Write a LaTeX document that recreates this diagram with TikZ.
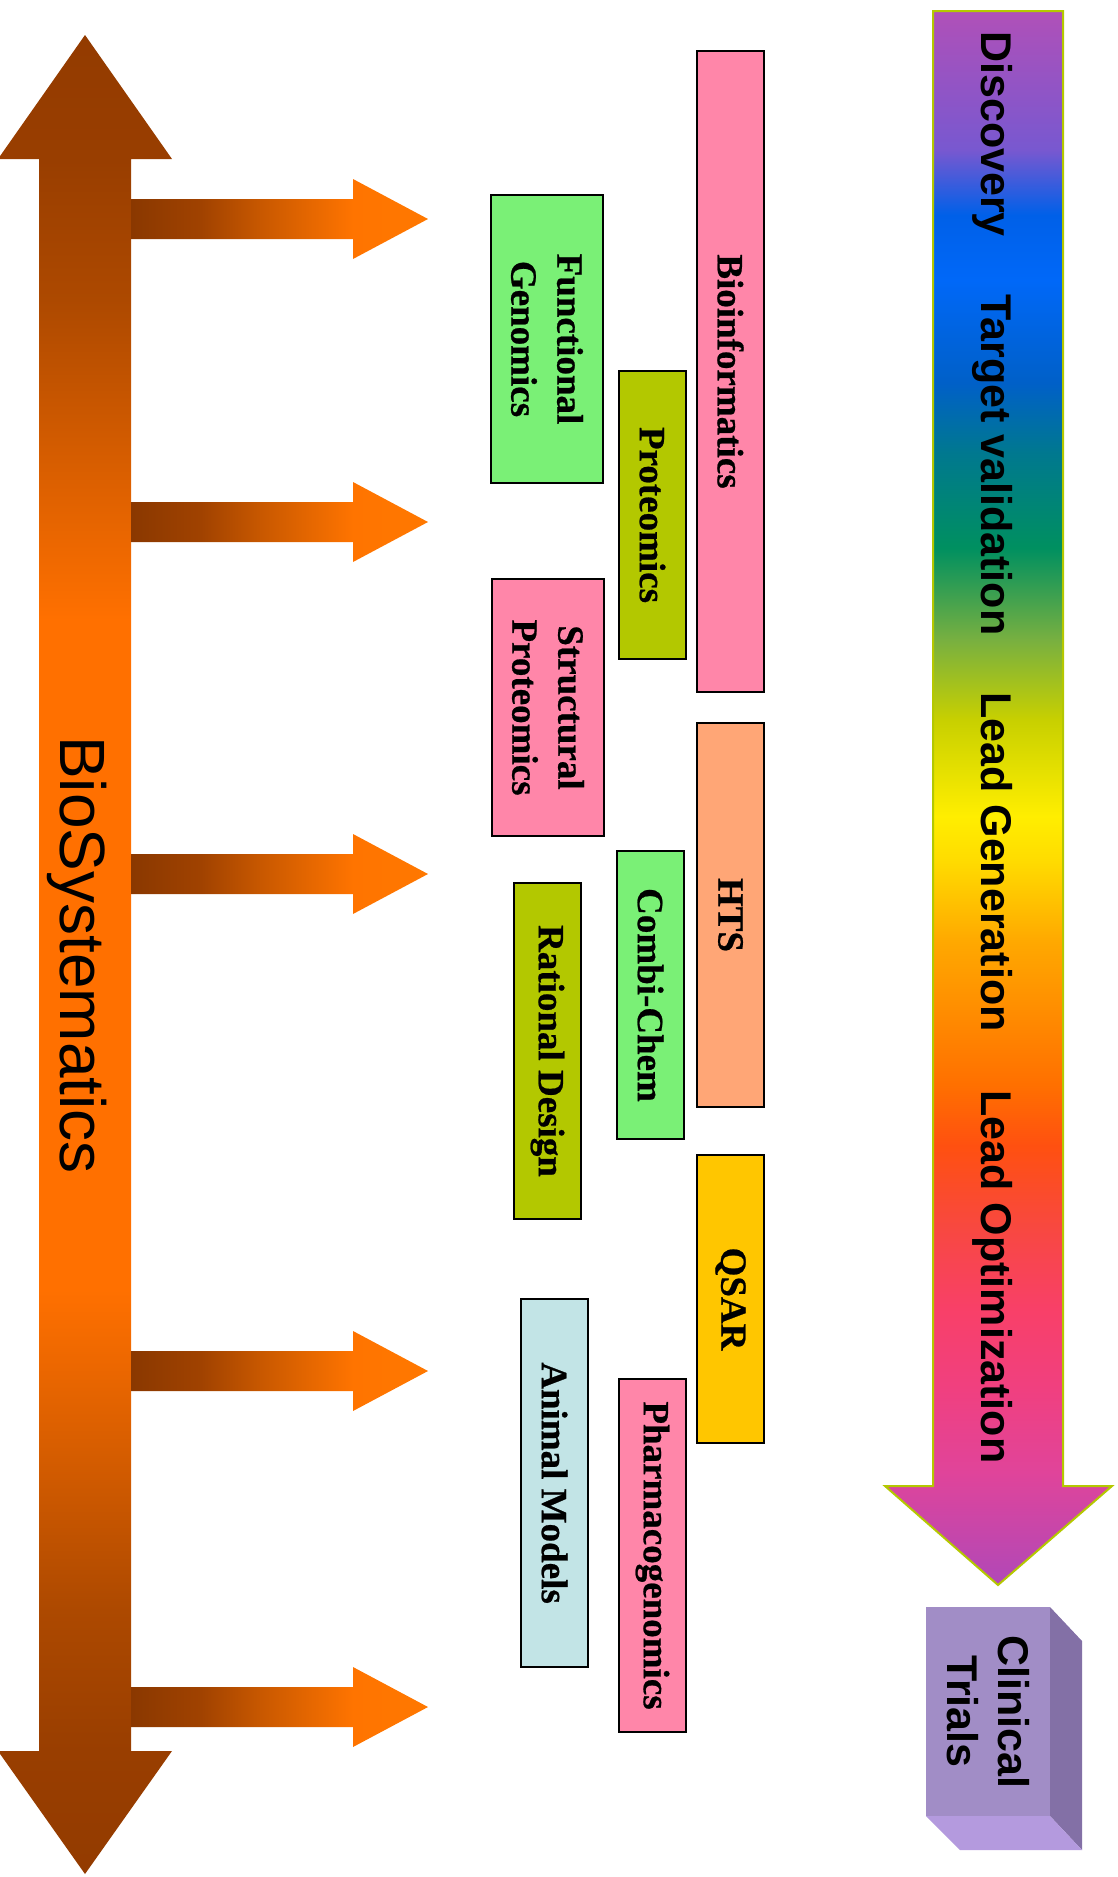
\documentclass[tikz,border=0pt]{standalone}
\usepackage{fontspec}
\setmainfont{Liberation Serif}[BoldFeatures={FakeBold=0.6}]
\newfontfamily\arialfont{Liberation Sans}

% box fills
\definecolor{boxpink}{HTML}{FF86A9}
\definecolor{boxgreen}{HTML}{7AF076}
\definecolor{boxolive}{HTML}{B3C800}
\definecolor{boxsalmon}{HTML}{FFA676}
\definecolor{boxgold}{HTML}{FFC600}
\definecolor{boxcyan}{HTML}{C2E4E6}
% pipeline arrow
\definecolor{rimgreen}{HTML}{B4C800}
\definecolor{rbA}{HTML}{B048B8}
\definecolor{rbB}{HTML}{E0449A}
\definecolor{rbC}{HTML}{F04080}
\definecolor{rbD}{HTML}{F84068}
\definecolor{rbE}{HTML}{F84840}
\definecolor{rbF}{HTML}{FF5010}
\definecolor{rbG}{HTML}{FF7000}
\definecolor{rbH}{HTML}{FFA800}
\definecolor{rbI}{HTML}{FFDC00}
\definecolor{rbJ}{HTML}{FFEE00}
\definecolor{rbK}{HTML}{C8D000}
\definecolor{rbL}{HTML}{78B040}
\definecolor{rbM}{HTML}{009060}
\definecolor{rbN}{HTML}{007890}
\definecolor{rbO}{HTML}{0060C8}
\definecolor{rbP}{HTML}{0068F8}
\definecolor{rbQ}{HTML}{0060E8}
\definecolor{rbR}{HTML}{7858D0}
\definecolor{rbS}{HTML}{B050B8}
% BioSystematics arrow
\definecolor{bsA}{HTML}{933B00}
\definecolor{bsB}{HTML}{993E00}
\definecolor{bsC}{HTML}{AD4900}
\definecolor{bsD}{HTML}{D45C00}
\definecolor{bsE}{HTML}{FF7000}
% spokes
\definecolor{spA}{HTML}{8A3800}
\definecolor{spB}{HTML}{A04200}
\definecolor{spC}{HTML}{C85800}
\definecolor{spD}{HTML}{FF7400}
\definecolor{spE}{HTML}{FF7800}
% clinical trials block
\definecolor{ctFront}{HTML}{A18DC6}
\definecolor{ctSide}{HTML}{8370A6}
\definecolor{ctBottom}{HTML}{B49ADE}

\pgfdeclareverticalshading{pipeline}{100bp}{%
  color(0bp)=(rbA); color(25bp)=(rbA); color(28.59bp)=(rbB); color(31.19bp)=(rbC);
  color(33.77bp)=(rbD); color(36.37bp)=(rbE); color(38.95bp)=(rbF); color(40.91bp)=(rbG);
  color(45.43bp)=(rbH); color(48.03bp)=(rbI); color(49.43bp)=(rbJ); color(52.48bp)=(rbK);
  color(55.02bp)=(rbL); color(57.94bp)=(rbM); color(60.99bp)=(rbN); color(63.18bp)=(rbO);
  color(66.45bp)=(rbP); color(68.52bp)=(rbQ); color(70.58bp)=(rbR); color(75bp)=(rbS);
  color(100bp)=(rbS)}

\pgfdeclareverticalshading{biosys}{100bp}{%
  color(0bp)=(bsA); color(25bp)=(bsA); color(28.37bp)=(bsB); color(32.18bp)=(bsC);
  color(36.26bp)=(bsD); color(40.88bp)=(bsE); color(59.09bp)=(bsE); color(63.72bp)=(bsD);
  color(67.80bp)=(bsC); color(71.60bp)=(bsB); color(75bp)=(bsA); color(100bp)=(bsA)}

\pgfdeclarehorizontalshading{spoke}{100bp}{%
  color(0bp)=(spA); color(25bp)=(spA); color(36.74bp)=(spB); color(46.81bp)=(spC);
  color(62.42bp)=(spD); color(75bp)=(spE); color(100bp)=(spE)}

\begin{document}
\begin{tikzpicture}[x=1pt,y=-1pt,
  techbox/.style={draw=black, line width=1.6pt, rotate=-90, inner sep=0pt,
    align=center, font=\bfseries\fontsize{37}{46}\selectfont},
  stage/.style={rotate=-90, anchor=base, inner sep=0pt,
    font=\arialfont\bfseries\fontsize{43}{50}\selectfont},
  spokearrow/.style={shade, shading=spoke}]

\useasboundingbox (0,0) rectangle (1118,1877);

% double-headed BioSystematics arrow
\path[shade, shading=biosys]
  (85,35) -- (172,159) -- (131,159) -- (131,1751) -- (172,1751) -- (85,1874)
  -- (-2,1751) -- (39,1751) -- (39,159) -- (-2,159) -- cycle;

% spokes leaving the BioSystematics arrow
\foreach \yy in {219,522,874,1371,1707} {
  \path[spokearrow]
    (131,\yy-20) -- (353,\yy-20) -- (353,\yy-40) -- (428,\yy)
    -- (353,\yy+40) -- (353,\yy+20) -- (131,\yy+20) -- cycle;
}

\node[rotate=-90, anchor=base, inner sep=0pt,
  font=\arialfont\fontsize{64}{70}\selectfont] (biosys) at (60,955) {BioSystematics};

% drug discovery pipeline arrow
\path[shade, shading=pipeline, draw=rimgreen, line width=2pt]
  (933,11) -- (1063,11) -- (1063,1486) -- (1112,1486) -- (998,1585)
  -- (885,1486) -- (933,1486) -- cycle;

\node[stage] (discovery) at (981,134) {Discovery};
\node[stage] (target) at (981,465) {Target validation};
\node[stage] (leadgen) at (981,862) {Lead Generation};
\node[stage] (leadopt) at (981,1277) {Lead Optimization};

% clinical trials block
\fill[ctSide] (1050,1607) -- (1082,1641) -- (1082,1850) -- (1050,1816) -- cycle;
\fill[ctBottom] (926,1816) -- (1050,1816) -- (1082,1850) -- (960,1850) -- cycle;
\node[rotate=-90, inner sep=0pt, fill=ctFront, minimum width=209pt, minimum height=124pt,
  align=center, font=\arialfont\bfseries\fontsize{43}{51}\selectfont]
  (clinical) at (988,1711.5) {Clinical\\Trials};

% technology boxes
\node[techbox, fill=boxpink,   minimum width=641pt, minimum height=67pt]  (bioinf)     at (730.5,371.5) {Bioinformatics};
\node[techbox, fill=boxgreen,  minimum width=288pt, minimum height=112pt] (funcgen)    at (547,339)     {Functional\\Genomics};
\node[techbox, fill=boxolive,  minimum width=288pt, minimum height=67pt]  (proteomics) at (652.5,515)   {Proteomics};
\node[techbox, fill=boxpink,   minimum width=257pt, minimum height=112pt] (structprot) at (548,707.5)   {Structural\\Proteomics};
\node[techbox, fill=boxsalmon, minimum width=384pt, minimum height=67pt]  (hts)        at (730.5,915)   {HTS};
\node[techbox, fill=boxgreen,  minimum width=288pt, minimum height=67pt]  (combichem)  at (650.5,995)   {Combi-Chem};
\node[techbox, fill=boxolive,  minimum width=336pt, minimum height=67pt]  (ratdesign)  at (547.5,1051)  {Rational Design};
\node[techbox, fill=boxgold,   minimum width=288pt, minimum height=67pt]  (qsar)       at (730.5,1299)  {QSAR};
\node[techbox, fill=boxcyan,   minimum width=368pt, minimum height=67pt]  (animal)     at (554.5,1483)  {Animal Models};
\node[techbox, fill=boxpink,   minimum width=353pt, minimum height=67pt]  (pharmaco)   at (652.5,1555.5) {Pharmacogenomics};

\end{tikzpicture}
\end{document}
